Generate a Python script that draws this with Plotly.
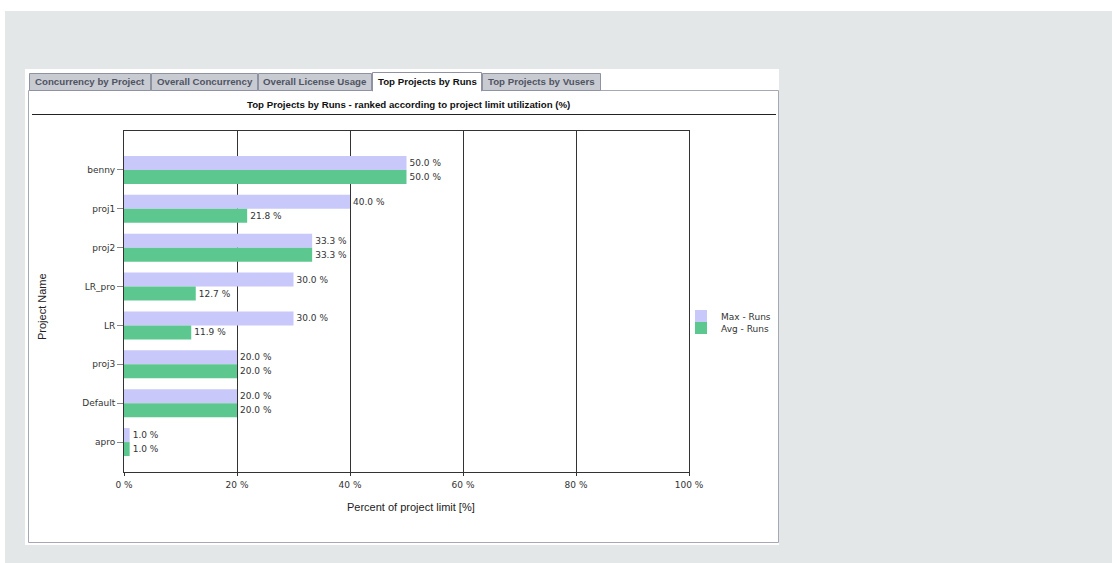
import plotly.graph_objects as go

W, H = 1112, 563
# plot area in page pixels
L, R, T, B = 124, 689, 131, 472

projects = ["benny", "proj1", "proj2", "LR_pro", "LR", "proj3", "Default", "apro"]
max_runs = [50.0, 40.0, 33.3, 30.0, 30.0, 20.0, 20.0, 1.0]
avg_runs = [50.0, 21.8, 33.3, 12.7, 11.9, 20.0, 20.0, 1.0]
x_ticks = [0, 20, 40, 60, 80, 100]
x_tick_labels = ["0 %", "20 %", "40 %", "60 %", "80 %", "100 %"]
tabs = ["Concurrency by Project", "Overall Concurrency", "Overall License Usage",
        "Top Projects by Runs", "Top Projects by Vusers"]
active_tab = "Top Projects by Runs"

MAX_COLOR = "#c8c8fa"
AVG_COLOR = "#5cc890"
FONT = "DejaVu Sans"


def px(x):
    return (x - L) / (R - L)


def py(y):
    return (B - y) / (B - T)


def rect(x0, y0, x1, y1, fill=None, line=None, width=1):
    return dict(type="rect", xref="paper", yref="paper", layer="below",
                x0=px(x0), x1=px(x1), y0=py(y1), y1=py(y0),
                fillcolor=fill or "rgba(0,0,0,0)",
                line=dict(color=line or "rgba(0,0,0,0)", width=width if line else 0))


def hline(x0, x1, y, color, width=1):
    return dict(type="line", xref="paper", yref="paper", layer="below",
                x0=px(x0), x1=px(x1), y0=py(y), y1=py(y),
                line=dict(color=color, width=width))


def label(text, x, y, size, color, family="Liberation Sans", angle=0):
    return dict(text=text, x=px(x), y=py(y), xref="paper", yref="paper",
                showarrow=False, xanchor="center", yanchor="middle", textangle=angle,
                font=dict(family=family, size=size, color=color))


fig = go.Figure()
fig.add_trace(go.Bar(
    y=projects, x=max_runs, orientation="h", name="Max - Runs",
    marker=dict(color=MAX_COLOR, line=dict(width=0)),
    texttemplate="%{x:.1f} %", textposition="outside", cliponaxis=False,
    constraintext="none", textfont=dict(family=FONT, size=9, color="#333"),
    hoverinfo="skip", legend="legend", showlegend=True,
))
fig.add_trace(go.Bar(
    y=projects, x=avg_runs, orientation="h", name="Avg - Runs",
    marker=dict(color=AVG_COLOR, line=dict(width=0)),
    texttemplate="%{x:.1f} %", textposition="outside", cliponaxis=False,
    constraintext="none", textfont=dict(family=FONT, size=9, color="#333"),
    hoverinfo="skip", legend="legend2", showlegend=True,
))

# page chrome: grey page, white panel, tab strip, frame
shapes = [
    rect(5, 11, W, H, fill="#e4e7e7"),
    rect(25, 69, 779, 545, fill="white"),
    rect(28.5, 90.5, 778.5, 542.5, line="#a6a9b5"),
]
tab_spans = [(29, 150), (151, 257), (258, 371), (372, 481), (482, 600)]
annotations = []
for name, (x0, x1) in zip(tabs, tab_spans):
    if name == active_tab:
        shapes.append(rect(x0 + 0.5, 72.5, x1 + 0.5, 91, fill="white", line="#8f92a0"))
        color, yc = "#111", 82
    else:
        shapes.append(rect(x0 + 0.5, 73.5, x1 + 0.5, 90.5, fill="#c9cbd2", line="#8f92a0"))
        color, yc = "#4f5462", 81.5
    annotations.append(label("<b>%s</b>" % name, (x0 + x1) / 2 + 0.5, yc, 9.7, color))
# white cover for the active tab's bottom edge
shapes.append(rect(373, 89, 481, 92, fill="white"))
shapes.append(hline(32, 776, 114.5, "#222"))

annotations += [
    label("<b>Top Projects by Runs - ranked according to project limit utilization (%)</b>",
          408, 104, 9.7, "#111"),
    label("Percent of project limit [%]", 411, 507, 11, "#222"),
    label("Project Name", 42, 307, 11, "#222", angle=-90),
]

legend_style = dict(x=px(681), xanchor="left", yanchor="middle", bgcolor="rgba(0,0,0,0)",
                    borderwidth=0, font=dict(family=FONT, size=9, color="#333"))

fig.update_layout(
    width=W, height=H, autosize=False, showlegend=True,
    margin=dict(l=L, r=W - R, t=T, b=H - B, pad=0),
    paper_bgcolor="white", plot_bgcolor="rgba(0,0,0,0)",
    barmode="group", bargap=0.28, bargroupgap=0,
    shapes=shapes, annotations=annotations,
    legend=dict(y=py(316), **legend_style),
    legend2=dict(y=py(328), **legend_style),
    xaxis=dict(range=[0, 100], tickvals=x_ticks, ticktext=x_tick_labels,
               showgrid=True, gridcolor="#333", gridwidth=1, zeroline=False,
               showline=True, linecolor="#333", linewidth=1, mirror=True,
               ticks="outside", ticklen=3, tickcolor="#333", ticklabelstandoff=1,
               tickfont=dict(family=FONT, size=9, color="#333"), fixedrange=True),
    yaxis=dict(type="category", categoryorder="array", categoryarray=projects,
               range=[7.77, -1.0], showgrid=False, zeroline=False,
               showline=True, linecolor="#333", linewidth=1, mirror=True,
               ticks="outside", ticklen=6, tickcolor="#888",
               tickfont=dict(family=FONT, size=9, color="#333"), fixedrange=True),
)

# drop the default body margin so the figure sits at the page origin
fig.write_html("out.html", config={"displayModeBar": False},
               post_script="document.body.style.margin = '0';")
